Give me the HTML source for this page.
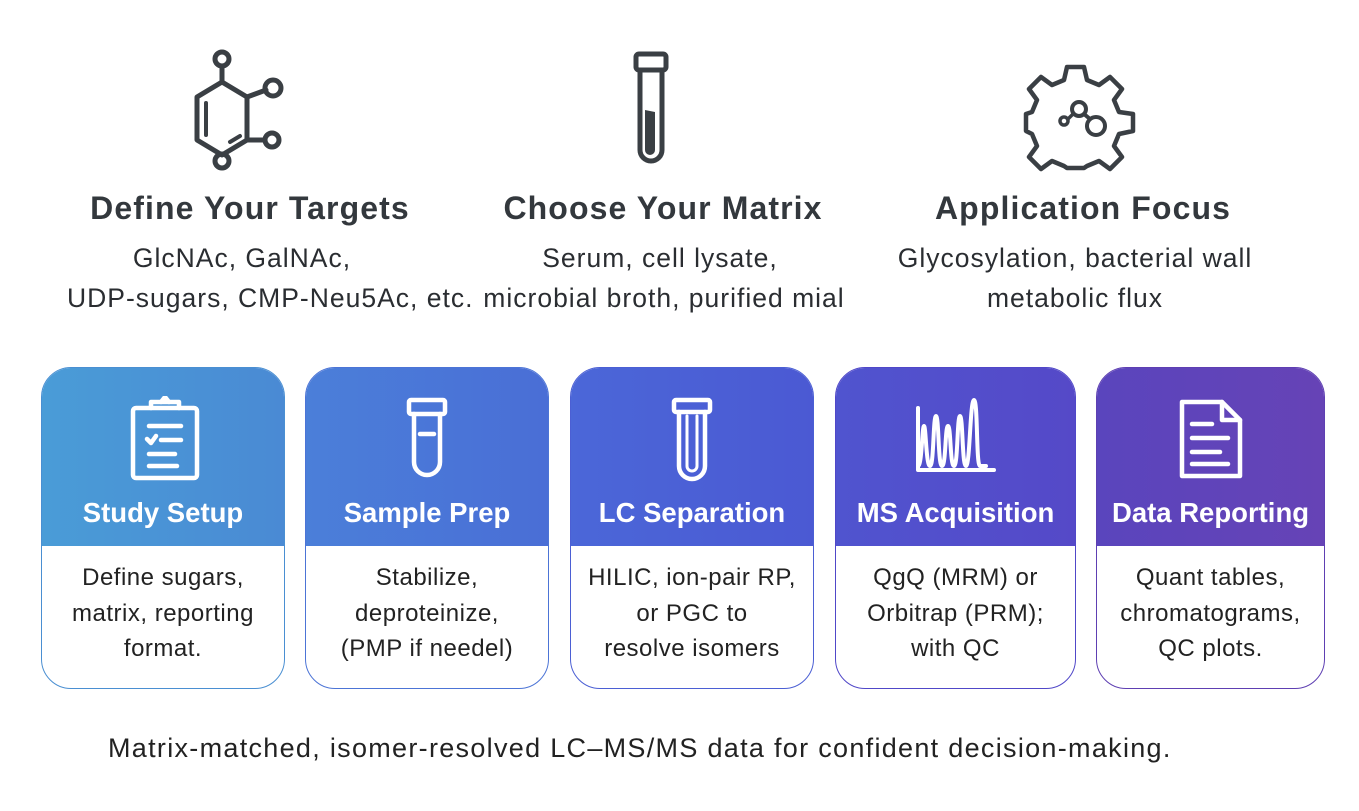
<!DOCTYPE html>
<html><head><meta charset="utf-8"><style>
html,body{margin:0;padding:0;background:#fff;}
body{width:1359px;height:811px;position:relative;overflow:hidden;font-family:"Liberation Sans","DejaVu Sans",sans-serif;color:#2a2d31;}
.t{position:absolute;text-align:center;font-weight:bold;font-size:32px;letter-spacing:1.1px;color:#33383d;white-space:nowrap;}
.s{position:absolute;text-align:center;font-size:26.5px;letter-spacing:1px;line-height:40px;color:#2a2d31;white-space:nowrap;}
.card{position:absolute;top:367px;height:322px;border-radius:30px;overflow:hidden;background:#fff;box-sizing:border-box;border:1.5px solid;}
.hd{position:absolute;left:0;right:0;top:0;height:178px;}
.hd .ht{position:absolute;left:0;right:0;top:129px;text-align:center;color:#fff;font-weight:bold;font-size:27.5px;white-space:nowrap;}
.bd{position:absolute;left:0;right:0;top:192px;text-align:center;font-size:24px;letter-spacing:0.5px;line-height:35.5px;color:#222;white-space:nowrap;}
.hd svg{position:absolute;left:50%;top:28px;transform:translateX(-50%);}
</style></head><body>

<svg style="position:absolute;left:0;top:0" width="1359" height="200" fill="none" stroke="#3a3f44" stroke-width="5" stroke-linejoin="round" stroke-linecap="round">
  <polygon points="222,82 247,97 247,140 222,155 197,140 197,97"/>
  <line x1="206" y1="103" x2="206" y2="135" stroke-width="4"/>
  <line x1="230" y1="142" x2="240" y2="136" stroke-width="4"/>
  <line x1="222" y1="82" x2="222" y2="67"/><circle cx="222" cy="59" r="7"/>
  <line x1="247" y1="97" x2="266" y2="90"/><circle cx="273" cy="88" r="8"/>
  <line x1="247" y1="140" x2="265" y2="140"/><circle cx="272" cy="140" r="7"/>
  <circle cx="222" cy="161" r="7"/>
  <rect x="636" y="54" width="30" height="16" rx="3"/>
  <path d="M640,70 V150 a11,11 0 0 0 22,0 V70"/>
  <path d="M645,110 L655,112 V150 a5,5 0 0 1 -10,0 Z" fill="#3a3f44" stroke="none"/>
  <path d="M1067,67 L1084,67 L1087,80 L1099,85 L1110,77 L1122,89 L1114,100 L1119,112 L1133,114 L1133,131 L1119,134 L1114,146 L1122,157 L1110,169 L1099,161 L1087,166 L1084,168 L1067,168 L1064,166 L1052,161 L1041,169 L1029,157 L1037,146 L1032,134 L1026,131 L1026,114 L1032,112 L1037,100 L1029,89 L1041,77 L1052,85 L1064,80 Z" stroke-width="4.5"/>
  <circle cx="1079" cy="109" r="7" stroke-width="4"/>
  <circle cx="1096" cy="126" r="9" stroke-width="4"/>
  <circle cx="1064" cy="121" r="4" stroke-width="3.5"/>
  <line x1="1084" y1="114" x2="1090" y2="119" stroke-width="4"/>
  <line x1="1068" y1="119" x2="1073" y2="114" stroke-width="3.5"/>
</svg>

<div class="t" style="left:50px;width:400px;top:190px;">Define Your Targets</div>
<div class="t" style="left:463px;width:400px;top:190px;">Choose Your Matrix</div>
<div class="t" style="left:883px;width:400px;top:190px;">Application Focus</div>

<div class="s" style="left:42px;width:400px;top:238px;">GlcNAc, GalNAc,</div>
<div class="s" style="left:67px;width:400px;top:278px;">UDP-sugars, CMP-Neu5Ac, etc.</div>
<div class="s" style="left:460px;width:400px;top:238px;">Serum, cell lysate,</div>
<div class="s" style="left:464px;width:400px;top:278px;">microbial broth, purified mial</div>
<div class="s" style="left:875px;width:400px;top:238px;">Glycosylation, bacterial wall</div>
<div class="s" style="left:875px;width:400px;top:278px;">metabolic flux</div>

<div class="card" style="left:41px;width:244px;border-color:#4a8fd2;">
  <div class="hd" style="background:linear-gradient(90deg,#4a9cd7,#4a8ad4);">
    <svg width="80" height="86" viewBox="0 0 80 86" fill="none" stroke="#fff" stroke-width="4.5" stroke-linecap="round" stroke-linejoin="round">
      <rect x="10" y="12" width="64" height="70" rx="3"/>
      <path d="M28,12 V6 H56 V12" /><path d="M38,6 L42,1 L46,6"/>
      <line x1="26" y1="30" x2="58" y2="30"/>
      <path d="M24,43 L28,47 L33,40"/><line x1="38" y1="44" x2="58" y2="44"/>
      <line x1="26" y1="58" x2="52" y2="58"/><line x1="26" y1="70" x2="54" y2="70"/>
    </svg>
    <div class="ht">Study Setup</div>
  </div>
  <div class="bd">Define sugars,<br>matrix, reporting<br>format.</div>
</div>

<div class="card" style="left:305px;width:244px;border-color:#4c74d6;">
  <div class="hd" style="background:linear-gradient(90deg,#4b7fd9,#4a6ed6);">
    <svg width="50" height="86" viewBox="0 0 50 86" fill="none" stroke="#fff" stroke-width="4.5" stroke-linecap="round" stroke-linejoin="round">
      <rect x="7" y="4" width="36" height="14" rx="2"/>
      <path d="M12,18 V66 a13,13 0 0 0 26,0 V18"/>
      <line x1="18" y1="38" x2="32" y2="38"/>
    </svg>
    <div class="ht">Sample Prep</div>
  </div>
  <div class="bd">Stabilize,<br>deproteinize,<br>(PMP if needel)</div>
</div>

<div class="card" style="left:570px;width:244px;border-color:#4b5fd4;">
  <div class="hd" style="background:linear-gradient(90deg,#4b67d8,#4b59d3);">
    <svg width="50" height="86" viewBox="0 0 50 86" fill="none" stroke="#fff" stroke-width="4.5" stroke-linecap="round" stroke-linejoin="round">
      <rect x="7" y="4" width="36" height="12" rx="2"/>
      <path d="M12,16 V70 a13,13 0 0 0 26,0 V16"/>
      <path d="M20,20 V70 a5,5 0 0 0 10,0 V20" stroke-width="3"/>
    </svg>
    <div class="ht">LC Separation</div>
  </div>
  <div class="bd">HILIC, ion-pair RP,<br>or PGC to<br>resolve isomers</div>
</div>

<div class="card" style="left:835px;width:241px;border-color:#5047c8;">
  <div class="hd" style="background:linear-gradient(90deg,#5054cf,#5549c8);">
    <svg width="84" height="80" viewBox="0 0 84 80" fill="none" stroke="#fff" stroke-width="4" stroke-linecap="round" stroke-linejoin="round">
      <path d="M4,12 V74 H80"/>
      <path d="M4,70 C8,70 8,30 10,30 C12,30 12,70 16,70 C20,70 19,20 22,20 C25,20 24,70 28,70 C32,70 31,30 34,30 C37,30 36,70 40,70 C44,70 43,20 46,20 C49,20 48,70 52,70 C56,70 56,4 60,4 C64,4 62,70 66,70 H72"/>
    </svg>
    <div class="ht">MS Acquisition</div>
  </div>
  <div class="bd">QgQ (MRM) or<br>Orbitrap (PRM);<br>with QC</div>
</div>

<div class="card" style="left:1096px;width:229px;border-color:#5e3fb2;">
  <div class="hd" style="background:linear-gradient(90deg,#5a45bd,#6643b6);">
    <svg width="70" height="86" viewBox="0 0 70 86" fill="none" stroke="#fff" stroke-width="4.5" stroke-linecap="round" stroke-linejoin="round">
      <path d="M6,6 H46 L64,24 V80 H6 Z"/><path d="M46,6 V24 H64"/>
      <line x1="16" y1="28" x2="36" y2="28"/><line x1="16" y1="42" x2="52" y2="42"/>
      <line x1="16" y1="56" x2="44" y2="56"/><line x1="16" y1="68" x2="52" y2="68"/>
    </svg>
    <div class="ht">Data Reporting</div>
  </div>
  <div class="bd">Quant tables,<br>chromatograms,<br>QC plots.</div>
</div>

<div style="position:absolute;left:108px;top:733px;font-size:27px;letter-spacing:1.3px;color:#222;white-space:nowrap;">Matrix-matched, isomer-resolved LC–MS/MS data for confident decision-making.</div>
</body></html>
